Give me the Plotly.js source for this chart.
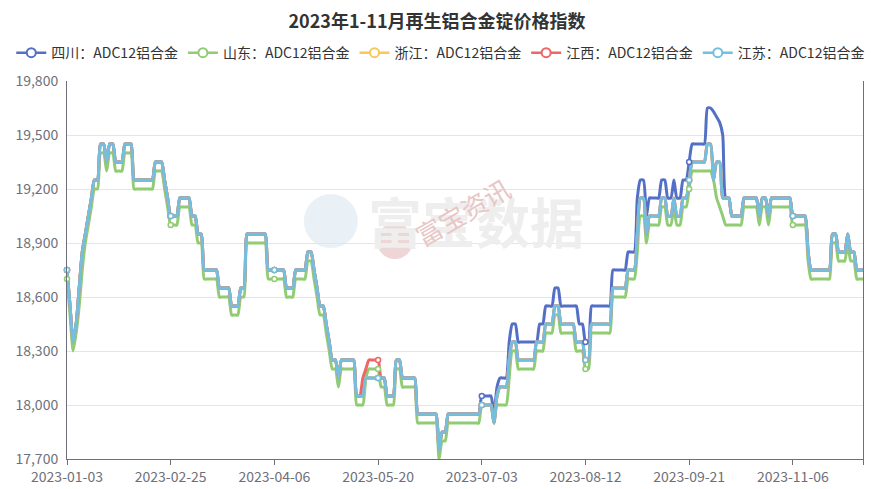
<!DOCTYPE html>
<html><head><meta charset="utf-8">
<script src="https://cdn.plot.ly/plotly-3.0.1.min.js"></script>
<style>html,body{margin:0;padding:0;background:#fff}#chart{width:874px;height:489px}</style>
</head><body><div id="chart"></div>
<script>
const seriesNames = ['四川：ADC12铝合金','山东：ADC12铝合金','浙江：ADC12铝合金','江西：ADC12铝合金','江苏：ADC12铝合金'];
const tickLabels = ['2023-01-03','2023-02-25','2023-04-06','2023-05-20','2023-07-03','2023-08-12','2023-09-21','2023-11-06'];
const tickIndex = [0,34,68,102,136,170,204,238];
const yTicks = [17700,18000,18300,18600,18900,19200,19500,19800];

const sichuan = [
18750,18550,18350,18450,18650,18850,18950,19050,19150,19250,
19250,19450,19450,19350,19450,19450,19350,19350,19350,19450,
19450,19450,19250,19250,19250,19250,19250,19250,19250,19350,
19350,19350,19250,19150,19050,19050,19050,19150,19150,19150,
19150,19050,19050,18950,18950,18750,18750,18750,18750,18750,
18650,18650,18650,18650,18550,18550,18550,18650,18650,18950,
18950,18950,18950,18950,18950,18950,18750,18750,18750,18750,
18750,18750,18650,18650,18650,18750,18750,18750,18750,18850,
18850,18750,18650,18550,18550,18450,18350,18250,18250,18150,
18250,18250,18250,18250,18250,18050,18050,18050,18150,18150,
18150,18150,18150,18150,18150,18050,18050,18050,18250,18250,
18150,18150,18150,18150,18150,17950,17950,17950,17950,17950,
17950,17950,17750,17850,17850,17950,17950,17950,17950,17950,
17950,17950,17950,17950,17950,17950,18050,18050,18050,18050,
17950,18100,18150,18150,18150,18350,18450,18450,18350,18350,
18350,18350,18350,18350,18350,18450,18450,18550,18550,18550,
18650,18650,18550,18550,18550,18550,18550,18550,18450,18450,
18350,18350,18550,18550,18550,18550,18550,18550,18550,18750,
18750,18750,18750,18750,18850,18850,18850,19150,19250,19250,
19050,19150,19150,19150,19150,19250,19250,19150,19150,19250,
19150,19150,19250,19250,19350,19450,19450,19450,19450,19450,
19650,19650,19630,19600,19570,19500,19150,19150,19050,19050,
19050,19050,19150,19150,19150,19150,19150,19050,19150,19150,
19050,19150,19150,19150,19150,19150,19150,19150,19050,19050,
19050,19050,19050,18850,18750,18750,18750,18750,18750,18750,
18750,18950,18950,18850,18850,18850,18950,18850,18850,18750,
18750,18750];

const shandong = [
18700,18500,18300,18400,18550,18750,18900,19000,19100,19200,
19200,19400,19400,19300,19400,19400,19300,19300,19300,19400,
19400,19400,19200,19200,19200,19200,19200,19200,19200,19300,
19300,19300,19200,19100,19000,19000,19000,19100,19100,19100,
19100,19000,19000,18900,18900,18700,18700,18700,18700,18700,
18600,18600,18600,18600,18500,18500,18500,18600,18600,18900,
18900,18900,18900,18900,18900,18900,18700,18700,18700,18700,
18700,18700,18600,18600,18600,18700,18700,18700,18700,18800,
18800,18700,18600,18500,18500,18400,18300,18200,18200,18100,
18200,18200,18200,18200,18200,18000,18000,18000,18150,18200,
18200,18200,18200,18100,18100,18000,18000,18000,18200,18200,
18100,18100,18100,18100,18100,17900,17900,17900,17900,17900,
17900,17900,17700,17800,17800,17900,17900,17900,17900,17900,
17900,17900,17900,17900,17900,17900,18000,18000,18000,18000,
17900,18000,18000,18000,18000,18150,18300,18300,18200,18200,
18200,18200,18200,18200,18300,18300,18300,18400,18400,18400,
18500,18500,18400,18400,18400,18400,18400,18300,18300,18300,
18200,18200,18400,18400,18400,18400,18400,18400,18400,18600,
18600,18600,18600,18600,18700,18700,18700,18850,19050,19050,
18900,19000,19000,19000,19000,19100,19100,19000,19000,19100,
19000,19000,19100,19100,19200,19300,19300,19300,19300,19300,
19300,19300,19250,19150,19100,19050,19000,19000,19000,19000,
19000,19000,19100,19100,19100,19100,19100,19000,19100,19100,
19000,19100,19100,19100,19100,19100,19100,19100,19000,19000,
19000,19000,19000,18800,18700,18700,18700,18700,18700,18700,
18700,18900,18900,18800,18800,18800,18900,18800,18800,18700,
18700,18700];

const zhejiang = [
18750,18550,18350,18450,18650,18850,18950,19050,19150,19250,
19250,19450,19450,19350,19450,19450,19350,19350,19350,19450,
19450,19450,19250,19250,19250,19250,19250,19250,19250,19350,
19350,19350,19250,19150,19050,19050,19050,19150,19150,19150,
19150,19050,19050,18950,18950,18750,18750,18750,18750,18750,
18650,18650,18650,18650,18550,18550,18550,18650,18650,18950,
18950,18950,18950,18950,18950,18950,18750,18750,18750,18750,
18750,18750,18650,18650,18650,18750,18750,18750,18750,18850,
18850,18750,18650,18550,18550,18450,18350,18250,18250,18150,
18250,18250,18250,18250,18250,18050,18050,18050,18150,18150,
18150,18150,18150,18150,18150,18050,18050,18050,18250,18250,
18150,18150,18150,18150,18150,17950,17950,17950,17950,17950,
17950,17950,17750,17850,17850,17950,17950,17950,17950,17950,
17950,17950,17950,17950,17950,17950,18000,18000,18000,18000,
17900,18050,18100,18100,18100,18250,18350,18350,18250,18250,
18250,18250,18250,18250,18350,18350,18350,18450,18450,18450,
18550,18550,18450,18450,18450,18450,18450,18350,18350,18350,
18250,18250,18450,18450,18450,18450,18450,18450,18450,18650,
18650,18650,18650,18650,18750,18750,18750,18950,19150,19150,
18950,19050,19050,19050,19050,19150,19150,19050,19050,19150,
19050,19050,19150,19150,19250,19350,19350,19350,19350,19350,
19450,19450,19250,19350,19350,19150,19150,19150,19050,19050,
19050,19050,19150,19150,19150,19150,19150,19050,19150,19150,
19050,19150,19150,19150,19150,19150,19150,19150,19050,19050,
19050,19050,19050,18850,18750,18750,18750,18750,18750,18750,
18750,18950,18950,18850,18850,18850,18950,18850,18850,18750,
18750,18750];

const jiangxi = [
18750,18550,18350,18450,18650,18850,18950,19050,19150,19250,
19250,19450,19450,19350,19450,19450,19350,19350,19350,19450,
19450,19450,19250,19250,19250,19250,19250,19250,19250,19350,
19350,19350,19250,19150,19050,19050,19050,19150,19150,19150,
19150,19050,19050,18950,18950,18750,18750,18750,18750,18750,
18650,18650,18650,18650,18550,18550,18550,18650,18650,18950,
18950,18950,18950,18950,18950,18950,18750,18750,18750,18750,
18750,18750,18650,18650,18650,18750,18750,18750,18750,18850,
18850,18750,18650,18550,18550,18450,18350,18250,18250,18150,
18250,18250,18250,18250,18250,18050,18050,18150,18200,18250,
18250,18250,18250,18150,18150,18050,18050,18050,18250,18250,
18150,18150,18150,18150,18150,17950,17950,17950,17950,17950,
17950,17950,17750,17850,17850,17950,17950,17950,17950,17950,
17950,17950,17950,17950,17950,17950,18000,18000,18000,18000,
17900,18050,18100,18100,18100,18250,18350,18350,18250,18250,
18250,18250,18250,18250,18350,18350,18350,18450,18450,18450,
18550,18550,18450,18450,18450,18450,18450,18350,18350,18350,
18250,18250,18450,18450,18450,18450,18450,18450,18450,18650,
18650,18650,18650,18650,18750,18750,18750,18950,19150,19150,
18950,19050,19050,19050,19050,19150,19150,19050,19050,19150,
19050,19050,19150,19150,19250,19350,19350,19350,19350,19350,
19450,19450,19250,19350,19350,19150,19150,19150,19050,19050,
19050,19050,19150,19150,19150,19150,19150,19050,19150,19150,
19050,19150,19150,19150,19150,19150,19150,19150,19050,19050,
19050,19050,19050,18850,18750,18750,18750,18750,18750,18750,
18750,18950,18950,18850,18850,18850,18950,18850,18850,18750,
18750,18750];

const jiangsu = [
18750,18550,18350,18450,18650,18850,18950,19050,19150,19250,
19250,19450,19450,19350,19450,19450,19350,19350,19350,19450,
19450,19450,19250,19250,19250,19250,19250,19250,19250,19350,
19350,19350,19250,19150,19050,19050,19050,19150,19150,19150,
19150,19050,19050,18950,18950,18750,18750,18750,18750,18750,
18650,18650,18650,18650,18550,18550,18550,18650,18650,18950,
18950,18950,18950,18950,18950,18950,18750,18750,18750,18750,
18750,18750,18650,18650,18650,18750,18750,18750,18750,18850,
18850,18750,18650,18550,18550,18450,18350,18250,18250,18150,
18250,18250,18250,18250,18250,18050,18050,18050,18150,18150,
18150,18150,18150,18150,18150,18050,18050,18050,18250,18250,
18150,18150,18150,18150,18150,17950,17950,17950,17950,17950,
17950,17950,17750,17850,17850,17950,17950,17950,17950,17950,
17950,17950,17950,17950,17950,17950,18000,18000,18000,18000,
17900,18050,18100,18100,18100,18250,18350,18350,18250,18250,
18250,18250,18250,18250,18350,18350,18350,18450,18450,18450,
18550,18550,18450,18450,18450,18450,18450,18350,18350,18350,
18250,18250,18450,18450,18450,18450,18450,18450,18450,18650,
18650,18650,18650,18650,18750,18750,18750,18950,19150,19150,
18950,19050,19050,19050,19050,19150,19150,19050,19050,19150,
19050,19050,19150,19150,19250,19350,19350,19350,19350,19350,
19450,19450,19250,19350,19350,19150,19150,19150,19050,19050,
19050,19050,19150,19150,19150,19150,19150,19050,19150,19150,
19050,19150,19150,19150,19150,19150,19150,19150,19050,19050,
19050,19050,19050,18850,18750,18750,18750,18750,18750,18750,
18750,18950,18950,18850,18850,18850,18950,18850,18850,18750,
18750,18750];

const colors = ['#5470c6','#91cc75','#fac858','#ee6666','#73c0de'];
const series = [sichuan, shandong, zhejiang, jiangxi, jiangsu];
const xIdx = jiangsu.map((_, i) => i);
const lastIdx = xIdx[xIdx.length - 1];

const traces = [];
series.forEach((ys, k) => {
  traces.push({x: xIdx, y: ys, type: 'scatter', mode: 'lines',
    line: {color: colors[k], width: 3, shape: 'spline', smoothing: 0.6},
    showlegend: false, legendgroup: 'g' + k, hoverinfo: 'skip'});
});
series.forEach((ys, k) => {
  traces.push({x: tickIndex, y: tickIndex.map(i => ys[i]), type: 'scatter', mode: 'markers',
    marker: {symbol: 'circle', size: 5, color: '#ffffff', line: {color: colors[k], width: 1.5}},
    cliponaxis: false, showlegend: false, legendgroup: 'g' + k, hoverinfo: 'skip'});
});
series.forEach((ys, k) => {
  traces.push({x: [null], y: [null], type: 'scatter', mode: 'lines+markers', name: seriesNames[k],
    line: {color: colors[k], width: 2.5},
    marker: {symbol: 'circle', size: 9, color: '#ffffff', line: {color: colors[k], width: 2}},
    legendgroup: 'g' + k});
});

const FONT = '"Noto Sans CJK SC", "Noto Sans", sans-serif';
const layout = {
  width: 874, height: 489,
  margin: {l: 67, r: 11, t: 81, b: 30},
  paper_bgcolor: '#ffffff', plot_bgcolor: '#ffffff',
  font: {family: FONT, color: '#333'},
  title: {text: '<b>2023年1-11月再生铝合金锭价格指数</b>', font: {size: 18, color: '#333', family: FONT},
    x: 0.5, xref: 'container', xanchor: 'center', y: 1 - 22 / 489, yref: 'container', yanchor: 'middle'},
  legend: {orientation: 'h', xref: 'paper', x: -0.07, xanchor: 'left',
    yref: 'paper', y: 1.074, yanchor: 'middle',
    font: {size: 14, color: '#333', family: FONT}, itemwidth: 30, bgcolor: 'rgba(0,0,0,0)'},
  xaxis: {range: [0, lastIdx], tickmode: 'array', tickvals: tickIndex.concat([lastIdx]), ticktext: tickLabels.concat(['']),
    showgrid: false, zeroline: false, showline: true, linecolor: '#6E7079', linewidth: 1,
    ticks: 'outside', ticklen: 5, tickcolor: '#6E7079', tickfont: {size: 14, color: '#6E7079', family: FONT}},
  yaxis: {range: [17700, 19800], tickmode: 'array', tickvals: yTicks, tickformat: ',d',
    showgrid: true, gridcolor: '#E0E6F1', gridwidth: 1, zeroline: false,
    showline: true, mirror: true, linecolor: '#6E7079', linewidth: 1,
    ticks: 'outside', ticklen: 5, tickcolor: 'rgba(0,0,0,0)', tickfont: {size: 14, color: '#6E7079', family: FONT}},
  shapes: [
    {type: 'circle', xref: 'paper', yref: 'paper', x0: 0.2976, x1: 0.3654, y0: 0.558, y1: 0.701,
      fillcolor: '#e9f1f7', line: {width: 0}, layer: 'below'},
    {type: 'circle', xref: 'paper', yref: 'paper', x0: 0.3893, x1: 0.4345, y0: 0.529, y1: 0.624,
      fillcolor: '#eed6d6', line: {width: 0}, layer: 'below'}
  ],
  annotations: [
    {text: '<b>富宝数据</b>', xref: 'paper', yref: 'paper', x: 0.514, y: 0.63, showarrow: false,
      font: {size: 54, color: '#eeeeee', family: FONT}},
    {text: '富宝资讯', xref: 'paper', yref: 'paper', x: 0.496, y: 0.656, showarrow: false, textangle: -30,
      font: {size: 26, color: '#e8c6c6', family: FONT}}
  ]
};

Plotly.newPlot('chart', traces, layout, {displayModeBar: false, staticPlot: true});
</script>
</body></html>
